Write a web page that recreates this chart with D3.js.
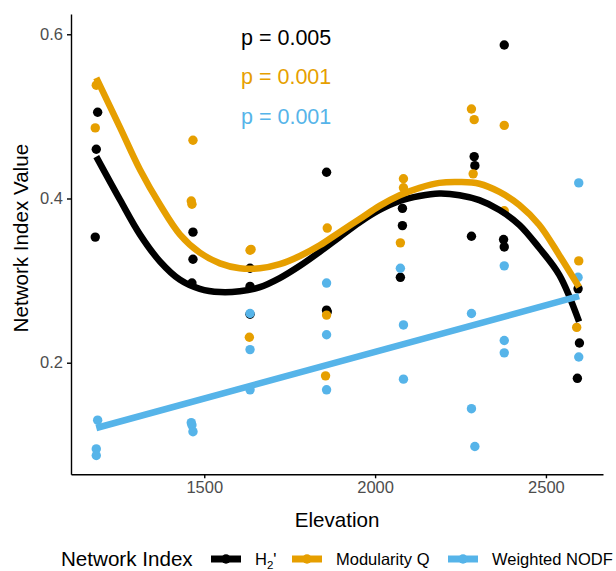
<!DOCTYPE html>
<html>
<head>
<meta charset="utf-8">
<script src="https://cdn.jsdelivr.net/npm/d3@7"></script>
<style>
  body { margin: 0; background: #fff; }
  text { font-family: "Liberation Sans", Arial, Helvetica, sans-serif; }
</style>
</head>
<body>
<script>
"use strict";

// data

const h2Elev = [1188, 1184, 1181, 1467, 1467, 1464, 1634, 1634, 1634, 1858, 1860, 1858, 2080, 2080, 2074, 2290, 2292, 2282, 2378, 2376, 2378, 2594, 2598, 2592];
const h2Val = [0.505, 0.460, 0.353, 0.359, 0.326, 0.297, 0.315, 0.293, 0.259, 0.264, 0.262, 0.432, 0.388, 0.367, 0.304, 0.451, 0.440, 0.354, 0.587, 0.350, 0.341, 0.290, 0.224, 0.181];

const modElev = [1184, 1181, 1467, 1462, 1464, 1637, 1634, 1632, 1860, 1858, 1855, 2083, 2083, 2074, 2282, 2290, 2287, 2378, 2378, 2596, 2590];
const modVal = [0.538, 0.486, 0.471, 0.397, 0.393, 0.338, 0.337, 0.231, 0.364, 0.258, 0.184, 0.424, 0.413, 0.346, 0.509, 0.496, 0.430, 0.489, 0.385, 0.324, 0.243];

const nodfElev = [1188, 1184, 1184, 1462, 1464, 1467, 1634, 1634, 1634, 1858, 1858, 1858, 2074, 2083, 2083, 2282, 2282, 2292, 2378, 2378, 2378, 2596, 2594, 2596];
const nodfVal = [0.130, 0.095, 0.087, 0.127, 0.124, 0.116, 0.260, 0.216, 0.167, 0.297, 0.234, 0.167, 0.315, 0.246, 0.180, 0.260, 0.144, 0.098, 0.318, 0.227, 0.212, 0.419, 0.304, 0.207];

// fitted curves
const fitElev = [1184, 1254, 1312, 1371, 1429, 1487, 1546, 1604, 1663, 1721, 1780, 1838, 1896, 1955, 2013, 2072, 2130, 2188, 2247, 2305, 2364, 2422, 2480, 2539, 2597];
const h2Fit = [0.451, 0.398, 0.356, 0.323, 0.301, 0.290, 0.286, 0.287, 0.292, 0.303, 0.318, 0.335, 0.353, 0.371, 0.386, 0.397, 0.403, 0.406, 0.404, 0.398, 0.386, 0.368, 0.340, 0.307, 0.250];
const modFit = [0.547, 0.486, 0.435, 0.392, 0.356, 0.334, 0.321, 0.315, 0.315, 0.320, 0.330, 0.343, 0.359, 0.375, 0.391, 0.404, 0.413, 0.419, 0.420, 0.418, 0.408, 0.392, 0.368, 0.331, 0.292];
const nodfFitElev = [1184, 2597];
const nodfFit = [0.1205, 0.281];

const xTicks = [1500, 2000, 2500];
const yTicks = [0.2, 0.4, 0.6];

const pLabels = ["p = 0.005", "p = 0.001", "p = 0.001"];
const seriesNames = ["H2'", "Modularity Q", "Weighted NODF"];
const colors = ["#000000", "#E69F00", "#56B4E9"];

// layout

const W = 616, H = 571;
const margin = {top: 14, left: 71, bottom: 96.7, right: 13};

const svg = d3.select("body").append("svg")
    .attr("width", W)
    .attr("height", H);

svg.append("rect").attr("width", W).attr("height", H).attr("fill", "#fff");

const x = d3.scaleLinear()
    .domain([1110, 2667])
    .range([margin.left, W - margin.right]);
const y = d3.scaleLinear()
    .domain([0.0641, 0.6247])
    .range([H - margin.bottom, margin.top]);

const zip = (a, b) => a.map((v, i) => [v, b[i]]);

const pointSets = [zip(h2Elev, h2Val), zip(modElev, modVal), zip(nodfElev, nodfVal)];
const fitSets = [zip(fitElev, h2Fit), zip(fitElev, modFit), zip(nodfFitElev, nodfFit)];

// points
pointSets.forEach((pts, i) => {
    svg.append("g").selectAll("circle")
	.data(pts)
	.enter()
	.append("circle")
	.attr("cx", (d) => x(d[0]))
	.attr("cy", (d) => y(d[1]))
	.attr("r", 4.7)
	.attr("fill", colors[i]);
});

// smooth lines
const line = d3.line()
    .x((d) => x(d[0]))
    .y((d) => y(d[1]))
    .curve(d3.curveCatmullRom);

fitSets.forEach((pts, i) => {
    svg.append("path")
	.datum(pts)
	.attr("d", line)
	.attr("fill", "none")
	.attr("stroke", colors[i])
	.attr("stroke-width", 6.5)
	.attr("stroke-linejoin", "round");
});

// axes
const xAxis = svg.append("g")
    .attr("transform", "translate(0," + (H - margin.bottom) + ")")
    .call(d3.axisBottom(x).tickValues(xTicks).tickFormat(d3.format("d")).tickSize(4).tickPadding(3).tickSizeOuter(0));
const yAxis = svg.append("g")
    .attr("transform", "translate(" + margin.left + ",0)")
    .call(d3.axisLeft(y).tickValues(yTicks).tickFormat(d3.format(".1f")).tickSize(4).tickPadding(4).tickSizeOuter(0));

[xAxis, yAxis].forEach((g) => {
    g.select(".domain").attr("stroke", "#000").attr("stroke-width", 1.4);
    g.selectAll(".tick line").attr("stroke", "#000").attr("stroke-width", 1.4);
    g.selectAll(".tick text")
	.attr("fill", "#4d4d4d")
	.style("font-size", "16.5px")
	.style("font-family", "'Liberation Sans', Arial, sans-serif");
});

// axis titles
svg.append("text")
    .attr("x", (margin.left + W - margin.right) / 2)
    .attr("y", 527)
    .attr("text-anchor", "middle")
    .style("font-size", "20.6px")
    .text("Elevation");

svg.append("text")
    .attr("transform", "translate(28," + ((margin.top + H - margin.bottom) / 2 - 6) + ") rotate(-90)")
    .attr("text-anchor", "middle")
    .style("font-size", "20.6px")
    .text("Network Index Value");

// p-value labels
svg.selectAll(".plab")
    .data(pLabels)
    .enter()
    .append("text")
    .attr("class", "plab")
    .attr("x", 241)
    .attr("y", (d, i) => [45, 84, 124][i])
    .attr("fill", (d, i) => colors[i])
    .style("font-size", "21.5px")
    .text((d) => d);

// legend
const legY = 559;
const leg = svg.append("g");
leg.append("text")
    .attr("x", 61)
    .attr("y", legY + 7)
    .style("font-size", "20.6px")
    .text("Network Index");

const keyX = [211, 292, 448];
seriesNames.forEach((name, i) => {
    const k = leg.append("g").attr("transform", "translate(" + keyX[i] + "," + legY + ")");
    k.append("line")
	.attr("x1", 0).attr("x2", 30)
	.attr("stroke", colors[i])
	.attr("stroke-width", 7);
    k.append("circle")
	.attr("cx", 15).attr("r", 4.7)
	.attr("fill", colors[i]);
    const t = k.append("text")
	.attr("x", 44)
	.attr("y", 6)
	.style("font-size", "16.5px");
    if (i === 0) {
	t.append("tspan").text("H");
	t.append("tspan").attr("dy", 4).style("font-size", "11.5px").text("2");
	t.append("tspan").attr("dy", -4).text("'");
    } else {
	t.text(name);
    }
});
</script>
</body>
</html>
